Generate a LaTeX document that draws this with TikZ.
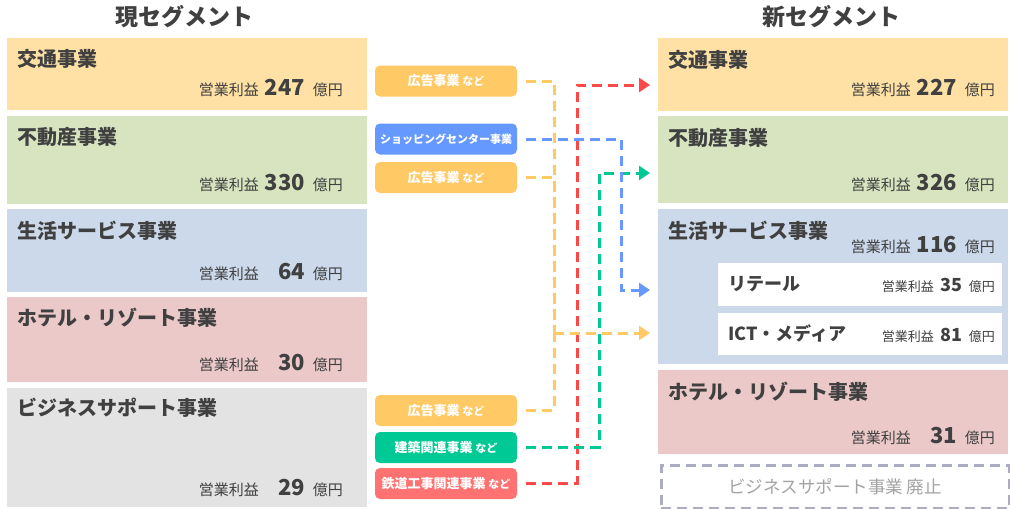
\documentclass[tikz,border=0pt]{standalone}
\usepackage{fontspec}
\setmainfont{Noto Sans CJK JP}
\usetikzlibrary{arrows.meta}
\definecolor{txt}{HTML}{404040}
\definecolor{cOr}{HTML}{FFE1A6}
\definecolor{cGr}{HTML}{D8E4BF}
\definecolor{cBl}{HTML}{CBD9EB}
\definecolor{cPk}{HTML}{ECC9C9}
\definecolor{cGy}{HTML}{E3E3E3}
\definecolor{lOr}{HTML}{FFC966}
\definecolor{lBl}{HTML}{6699FF}
\definecolor{lGn}{HTML}{00C996}
\definecolor{lRd}{HTML}{FF7272}
\definecolor{lnRd}{HTML}{FF4848}
\definecolor{dashc}{HTML}{ABABC2}
\definecolor{gtxt}{HTML}{A3A3A3}
\newcommand\fsz[1]{\fontsize{#1}{#1}\selectfont}
\newcommand\opbig[1]{{\fsz{15}営業利益}\makebox[46pt][r]{\fsz{22}\bfseries #1}\hspace{8pt}{\fsz{15}億円}}
\newcommand\opsmall[1]{{\fsz{13}営業利益}\makebox[29pt][r]{\fsz{18}\bfseries #1}\hspace{6pt}{\fsz{13}億円}}
\tikzset{
  segbox/.style={fill=#1,draw=none,inner sep=0pt,anchor=north west},
  boxtitle/.style={anchor=west,inner sep=0pt,text=txt,font=\fsz{20}\bfseries},
  profit/.style={anchor=east,inner sep=0pt,text=txt},
  tag/.style={fill=#1,draw=none,rounded corners=5pt,minimum width=142pt,minimum height=31pt,inner sep=0pt,text=white,font=\fsz{13}\bfseries},
  conn/.style={draw=#1,line width=3pt,dash pattern=on 10pt off 6pt},
  tip/.style={-{Triangle[length=11pt,width=14pt]},shorten >=8pt},
  heading/.style={text=txt,font=\fsz{23}\bfseries,inner sep=0pt}
}
\begin{document}
\begin{tikzpicture}[x=1pt,y=-1pt]
\useasboundingbox (0,0) rectangle (1010,509);
\fill[white] (0,0) rectangle (1010,509);
% headings
\node[heading] (hL) at (184,17) {現セグメント};
\node[heading] (hR) at (831,17) {新セグメント};
% left boxes
\node[segbox=cOr,minimum width=360pt,minimum height=72pt] (lTr) at (7,38) {};
\node[segbox=cGr,minimum width=360pt,minimum height=88pt] (lRE) at (7,116) {};
\node[segbox=cBl,minimum width=360pt,minimum height=83pt] (lLi) at (7,209) {};
\node[segbox=cPk,minimum width=360pt,minimum height=85pt] (lHo) at (7,297) {};
\node[segbox=cGy,minimum width=360pt,minimum height=119pt] (lBz) at (7,388) {};
\node[boxtitle] (lTrT) at (17,59) {交通事業};
\node[boxtitle] (lRET) at (17,137) {不動産事業};
\node[boxtitle] (lLiT) at (17,231) {生活サービス事業};
\node[boxtitle] (lHoT) at (17,318) {ホテル・リゾート事業};
\node[boxtitle] (lBzT) at (17,408) {ビジネスサポート事業};
\node[profit] (lTrP) at (343,88) {\opbig{247}};
\node[profit] (lREP) at (343,183) {\opbig{330}};
\node[profit] (lLiP) at (343,272) {\opbig{64}};
\node[profit] (lHoP) at (343,363) {\opbig{30}};
\node[profit] (lBzP) at (343,488) {\opbig{29}};
% right boxes
\node[segbox=cOr,minimum width=350pt,minimum height=73pt] (rTr) at (658,38) {};
\node[segbox=cGr,minimum width=350pt,minimum height=87pt] (rRE) at (658,116) {};
\node[segbox=cBl,minimum width=350pt,minimum height=155pt] (rLi) at (658,209) {};
\node[segbox=white,minimum width=284pt,minimum height=43pt] (rRt) at (718,263) {};
\node[segbox=white,minimum width=284pt,minimum height=42pt] (rIC) at (718,313) {};
\node[segbox=cPk,minimum width=350pt,minimum height=84pt] (rHo) at (658,370) {};
\node[draw=dashc,line width=3pt,dash pattern=on 10pt off 6pt,anchor=north west,minimum width=348pt,minimum height=43pt,inner sep=0pt] (rBz) at (659.5,464) {};
\node[boxtitle] (rTrT) at (668,60) {交通事業};
\node[boxtitle] (rRET) at (668,138) {不動産事業};
\node[boxtitle] (rLiT) at (668,231) {生活サービス事業};
\node[boxtitle] (rHoT) at (668,392) {ホテル・リゾート事業};
\node[boxtitle,font=\fsz{18}\bfseries] (rRtT) at (728,284) {リテール};
\node[boxtitle,font=\fsz{18}\bfseries] (rICT) at (728,333) {ICT・メディア};
\node[profit] (rTrP) at (995,88) {\opbig{227}};
\node[profit] (rREP) at (995,183) {\opbig{326}};
\node[profit] (rLiP) at (995,245) {\opbig{116}};
\node[profit] (rHoP) at (995,436) {\opbig{31}};
\node[profit] (rRtP) at (995,285) {\opsmall{35}};
\node[profit] (rICP) at (995,335) {\opsmall{81}};
\node[text=gtxt,font=\fsz{17.5},inner sep=0pt] (rBzT) at (835,487) {ビジネスサポート事業 廃止};
% middle tags
\node[tag=lOr] (ad1) at (446,81) {広告事業 {\fsz{11}など}};
\node[tag=lBl,font=\fsz{11}\bfseries] (shop) at (446,139) {ショッピングセンター事業};
\node[tag=lOr] (ad2) at (446,177.5) {広告事業 {\fsz{11}など}};
\node[tag=lOr] (ad3) at (446,410.5) {広告事業 {\fsz{11}など}};
\node[tag=lGn] (bld) at (446,447.5) {建築関連事業 {\fsz{11}など}};
\node[tag=lRd] (rail) at (446,483.5) {鉄道工事関連事業 {\fsz{11}など}};
% connectors
\coordinate (oJ) at (554,333);
\coordinate (rJ) at (577,85);
\coordinate (gJ) at (599,173);
\coordinate (bJ) at (621,290);
\draw[conn=lOr] ([xshift=9pt]ad1.east) -| (oJ);
\draw[conn=lOr] ([xshift=9pt]ad2.east) -| (oJ);
\draw[conn=lOr] ([xshift=9pt]ad3.east) -| (oJ);
\draw[conn=lnRd,tip,-{Triangle[length=11pt,width=14pt,fill=lnRd]}] ([xshift=9pt]rail.east) -| (rJ) -- (rJ -| rTr.west);
\draw[conn=lGn,tip] ([xshift=9pt]bld.east) -| (gJ) -- (gJ -| rRE.west);
\draw[conn=lBl,tip] ([xshift=9pt]shop.east) -| (bJ) -- (bJ -| rLi.west);
\draw[conn=lOr,tip] (oJ) -- (oJ -| rLi.west);
\end{tikzpicture}
\end{document}
